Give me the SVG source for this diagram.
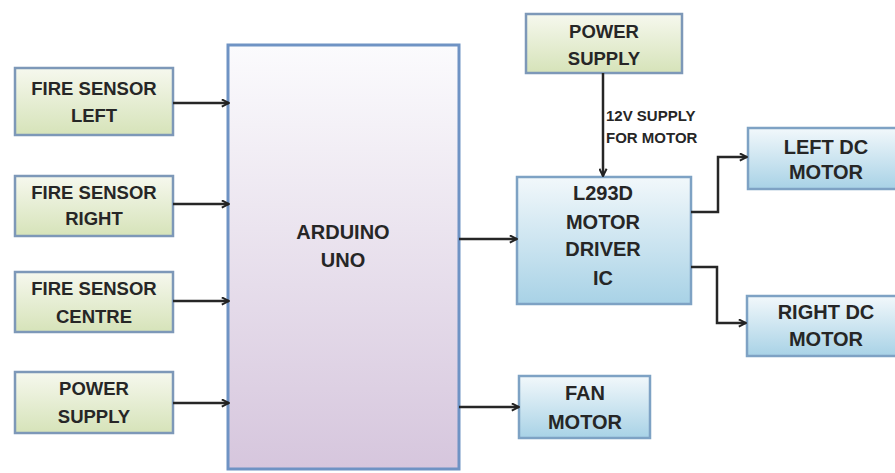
<svg xmlns="http://www.w3.org/2000/svg" width="895" height="473" viewBox="0 0 895 473">
<defs>
<linearGradient id="gGreen" x1="0" y1="0" x2="0" y2="1">
<stop offset="0" stop-color="#f6f8ee"/><stop offset="1" stop-color="#d6e3b9"/>
</linearGradient>
<linearGradient id="gBlue" x1="0" y1="0" x2="0" y2="1">
<stop offset="0" stop-color="#f2f8fb"/><stop offset="1" stop-color="#a8d2e6"/>
</linearGradient>
<linearGradient id="gPurple" x1="0" y1="0" x2="0" y2="1">
<stop offset="0" stop-color="#fbfbfd"/><stop offset="1" stop-color="#d6c6dd"/>
</linearGradient>
<marker id="arr" viewBox="0 0 10 10" refX="9" refY="5" markerWidth="9" markerHeight="9" markerUnits="userSpaceOnUse" orient="auto">
<path d="M1,1 L9,5 L1,9" fill="none" stroke="#222" stroke-width="2.2"/>
</marker>
<style>
.g{fill:url(#gGreen);stroke:#7d98b8;stroke-width:2.5}
.b{fill:url(#gBlue);stroke:#7ea2c4;stroke-width:2.5}
.p{fill:url(#gPurple);stroke:#6f93c4;stroke-width:3}
.t{font-family:"Liberation Sans",Arial,sans-serif;font-weight:bold;font-size:18.5px;fill:#262626;text-anchor:middle}
.tb{font-size:20px}
.s{font-family:"Liberation Sans",Arial,sans-serif;font-weight:bold;font-size:15px;fill:#262626}
.c{fill:none;stroke:#262626;stroke-width:2.5;marker-end:url(#arr)}
</style>
</defs>
<rect width="895" height="473" fill="#ffffff"/>

<g id="fire-left"><rect class="g" x="15" y="68" width="158" height="67"/>
<text class="t" x="94" y="94.5">FIRE SENSOR</text><text class="t" x="94" y="121.5">LEFT</text></g>
<g id="fire-right"><rect class="g" x="15" y="176" width="158" height="60"/>
<text class="t" x="94" y="198.5">FIRE SENSOR</text><text class="t" x="94" y="224.5">RIGHT</text></g>
<g id="fire-centre"><rect class="g" x="15" y="272" width="158" height="60"/>
<text class="t" x="94" y="294.5">FIRE SENSOR</text><text class="t" x="94" y="322.5">CENTRE</text></g>
<g id="power-left"><rect class="g" x="15" y="372" width="158" height="61"/>
<text class="t" x="94" y="394.5">POWER</text><text class="t" x="94" y="422.5">SUPPLY</text></g>

<g id="arduino"><rect class="p" x="228" y="45" width="231" height="424"/>
<text class="t tb" x="343" y="239">ARDUINO</text><text class="t tb" x="343" y="267">UNO</text></g>

<g id="power-top"><rect class="g" x="526" y="14" width="156" height="59"/>
<text class="t" x="604" y="37.5">POWER</text><text class="t" x="604" y="64.5">SUPPLY</text></g>

<g id="l293d"><rect class="b" x="517" y="177" width="174" height="127"/>
<text class="t tb" x="603" y="200">L293D</text><text class="t tb" x="603" y="229">MOTOR</text>
<text class="t tb" x="603" y="256">DRIVER</text><text class="t tb" x="603" y="285">IC</text></g>

<g id="left-dc"><rect class="b" x="748" y="128" width="150" height="61"/>
<text class="t tb" x="826" y="154">LEFT DC</text><text class="t tb" x="826" y="179">MOTOR</text></g>
<g id="right-dc"><rect class="b" x="747" y="296" width="150" height="60"/>
<text class="t tb" x="826" y="319">RIGHT DC</text><text class="t tb" x="826" y="346">MOTOR</text></g>

<g id="fan"><rect class="b" x="519" y="376" width="131" height="62"/>
<text class="t tb" x="585" y="400">FAN</text><text class="t tb" x="585" y="429">MOTOR</text></g>

<g id="connectors">
<line class="c" x1="173" y1="103" x2="229" y2="103"/>
<line class="c" x1="173" y1="204" x2="229" y2="204"/>
<line class="c" x1="173" y1="301" x2="229" y2="301"/>
<line class="c" x1="173" y1="403" x2="229" y2="403"/>
<line class="c" x1="459" y1="239" x2="517" y2="239"/>
<line class="c" x1="459" y1="407" x2="519" y2="407"/>
<line class="c" x1="603" y1="73" x2="603" y2="176"/>
<polyline class="c" points="691,212 718,212 718,157 747,157"/>
<polyline class="c" points="691,267 717,267 717,323 746,323"/>
<text class="s" x="606" y="120.5">12V SUPPLY</text>
<text class="s" x="606" y="142.5">FOR MOTOR</text>
</g>
</svg>
